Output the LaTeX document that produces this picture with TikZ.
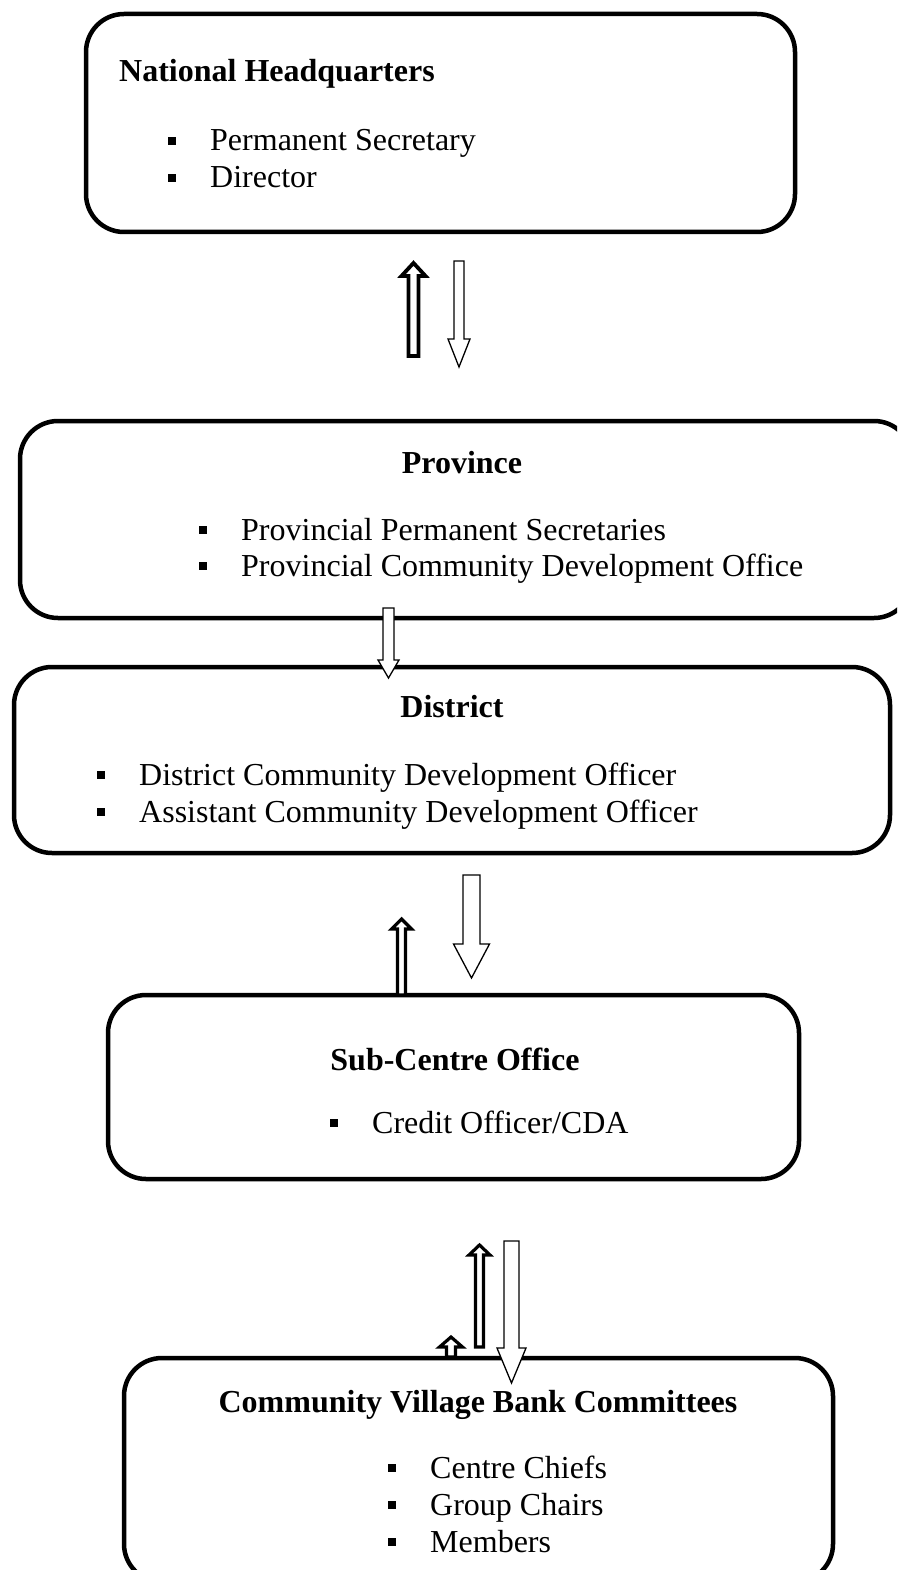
\documentclass[tikz,border=0pt]{standalone}
\usepackage{fontspec}
\setmainfont{Liberation Serif}
\newcommand\blt{\makebox[42pt][l]{\rule[6pt]{8pt}{8pt}}}
\tikzset{
  box/.style={draw, line width=4.5pt, rounded corners=38pt, inner sep=0pt},
  title/.style={font=\fontsize{32}{38}\selectfont\bfseries, inner sep=0pt},
  item/.style={font=\fontsize{32}{38}\selectfont, inner sep=0pt, anchor=base west},
  thickarrow/.style={draw, line width=3.8pt, fill=white, miter limit=10},
  thinarrow/.style={draw, line width=1.3pt, fill=white, miter limit=10}
}
\begin{document}
\begin{tikzpicture}[x=1pt,y=-1pt]
\useasboundingbox (0,0) rectangle (897,1570);
\clip (0,0) rectangle (897,1570);
\fill[white] (0,0) rectangle (897,1570);
% boxes
\node[box, minimum width=709pt, minimum height=218pt] (nhq) at (440.5,123) {};
\node[box, minimum width=892pt, minimum height=197pt] (prov) at (466,519.5) {};
\node[box, minimum width=876pt, minimum height=186pt] (dist) at (452,760) {};
\node[box, minimum width=691pt, minimum height=184pt] (subc) at (453.5,1087) {};
\node[box, minimum width=709pt, minimum height=224pt] (cvbc) at (478.5,1470) {};
% texts
\node[title, anchor=base west] (nhqt) at (119,82) {National Headquarters};
\node[item] (nhq1) at (168,151) {\blt Permanent Secretary};
\node[item] (nhq2) at (168,188) {\blt Director};
\node[title, anchor=base] (provt) at (462,473) {Province};
\node[item] (prov1) at (199,540) {\blt Provincial Permanent Secretaries};
\node[item] (prov2) at (199,576) {\blt Provincial Community Development Office};
\node[title, anchor=base] (distt) at (452,717) {District};
\node[item] (dist1) at (97,785) {\blt District Community Development Officer};
\node[item] (dist2) at (97,822) {\blt Assistant Community Development Officer};
\node[title, anchor=base] (subct) at (455,1070) {Sub-Centre Office};
\node[item] (subc1) at (330,1133) {\blt Credit Officer/CDA};
\node[title, anchor=base] (cvbct) at (478,1412) {Community Village Bank Committees};
\node[item] (cvbc1) at (388,1478) {\blt Centre Chiefs};
\node[item] (cvbc2) at (388,1515) {\blt Group Chairs};
\node[item] (cvbc3) at (388,1552) {\blt Members};
% arrows NHQ <-> Province
\draw[thickarrow] (408.5,356) -- (408.5,276) -- (401.5,276) -- (413.5,263) -- (425.5,276) -- (418.5,276) -- (418.5,356) -- cycle;
\draw[thinarrow] (454,261) -- (454,339) -- (448,339) -- (459,367) -- (470,339) -- (464,339) -- (464,261) -- cycle;
% Province -> District
\draw[thinarrow] (383,608) -- (383,660) -- (378,660) -- (388.5,678) -- (399,660) -- (394,660) -- (394,608) -- cycle;
% District <-> Sub-Centre
\draw[thinarrow] (463,875) -- (463,944) -- (453.5,944) -- (471.5,978) -- (489.5,944) -- (480,944) -- (480,875) -- cycle;
\draw[thickarrow, line width=3.2pt] (397.5,995) -- (397.5,929) -- (391.5,929) -- (401.5,919) -- (411.5,929) -- (405.5,929) -- (405.5,995) -- cycle;
% Sub-Centre <-> CVBC
\draw[thickarrow, line width=3.2pt] (475.5,1347) -- (475.5,1255) -- (469,1255) -- (479.5,1245) -- (490,1255) -- (483.5,1255) -- (483.5,1347) -- cycle;
\draw[thinarrow] (504,1241) -- (504,1348) -- (497,1348) -- (511.5,1383) -- (526,1348) -- (519,1348) -- (519,1241) -- cycle;
\draw[thickarrow, line width=3.2pt] (446.5,1357) -- (446.5,1347) -- (439.5,1347) -- (451,1337) -- (462.5,1347) -- (455.5,1347) -- (455.5,1357) -- cycle;
\end{tikzpicture}
\end{document}
